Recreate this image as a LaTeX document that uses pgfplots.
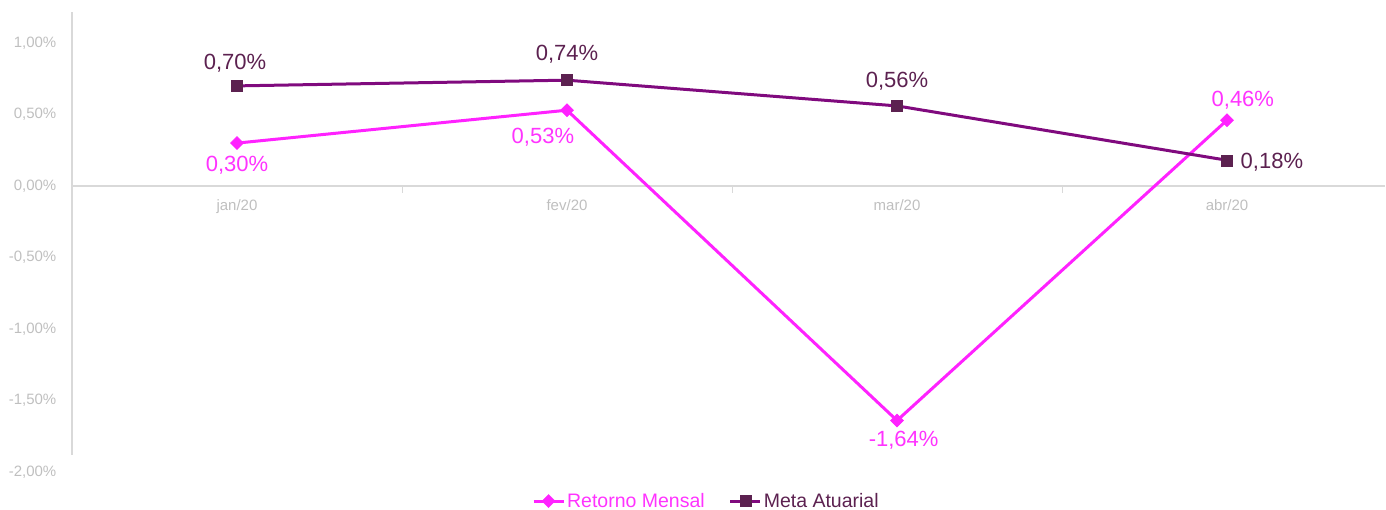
\documentclass[border=0pt]{standalone}
\usepackage{pgfplots}
\pgfplotsset{compat=1.18}
\usepackage{fontspec}
\setmainfont{Liberation Sans}
\definecolor{ret}{HTML}{FF22FF}
\definecolor{retlab}{HTML}{FF33FF}
\definecolor{metaline}{HTML}{800A7E}
\definecolor{metamark}{HTML}{5C2150}
\definecolor{axgray}{HTML}{D9D9D9}
\definecolor{ticklab}{HTML}{BFBFBF}
\begin{document}
\begin{tikzpicture}[x=1pt,y=1pt]
\useasboundingbox (0,0) rectangle (1386,510);
\begin{axis}[
  at={(72pt,38pt)}, anchor=south west,
  x=330pt, y=143pt,
  xmin=-0.5, xmax=3.48, ymin=-2, ymax=1.22,
  axis x line=middle, axis y line=left,
  x axis line style={-, draw=axgray, line width=1.5pt},
  y axis line style={draw=none},
  clip=false,
  xtick={0,1,2,3},
  xticklabels={jan/20,fev/20,mar/20,abr/20},
  xtick style={draw=none},
  extra x ticks={0.5,1.5,2.5},
  extra x tick labels={},
  extra x tick style={xtick style={draw=axgray, line width=1pt}, major tick length=7pt, tick align=outside},
  ytick={-2,-1.5,-1,-0.5,0,0.5,1},
  yticklabels={{-2,00\%},{-1,50\%},{-1,00\%},{-0,50\%},{0,00\%},{0,50\%},{1,00\%}},
  ytick style={draw=none},
  tick label style={font=\fontsize{15}{17}\selectfont, text=ticklab},
  yticklabel style={anchor=east, xshift=-10pt},
  xticklabel style={yshift=-8pt},
  legend columns=2,
  legend style={at={(0.483,-0.063)}, anchor=center, draw=none, fill=none,
    font=\fontsize{19.5}{22}\selectfont, /tikz/every even column/.append style={column sep=22pt}},
  legend image code/.code={\draw[#1, line width=3pt, mark repeat=2, mark phase=2] plot coordinates {(0pt,0pt) (15pt,0pt) (30pt,0pt)};},
]
\addplot[ret, line width=3pt, mark=square*, mark size=4.6pt, mark options={solid, rotate=45, fill=ret, draw=ret, line width=0.5pt}] coordinates {(0,0.30)(1,0.53)(2,-1.64)(3,0.46)};
\addlegendentry[text=retlab]{Retorno Mensal}
\addplot[metaline, line width=3pt, mark=square*, mark size=5.5pt, mark options={solid, fill=metamark, draw=metamark, line width=0.5pt}] coordinates {(0,0.70)(1,0.74)(2,0.56)(3,0.18)};
\addlegendentry[text=metamark]{Meta Atuarial}
\begin{scope}[every node/.style={font=\fontsize{22}{25}\selectfont, inner sep=0pt}]
\node[text=retlab] at (axis cs:0,0.147) {0,30\%};
\node[text=retlab] at (axis cs:0.927,0.343) {0,53\%};
\node[text=retlab] at (axis cs:2.02,-1.776) {-1,64\%};
\node[text=retlab] at (axis cs:3.048,0.601) {0,46\%};
\node[text=metamark] at (axis cs:-0.006,0.860) {0,70\%};
\node[text=metamark] at (axis cs:1.0,0.923) {0,74\%};
\node[text=metamark] at (axis cs:2.0,0.734) {0,56\%};
\node[text=metamark] at (axis cs:3.136,0.168) {0,18\%};
\end{scope}
\draw[axgray, line width=1.5pt] (axis cs:-0.5,-1.88) -- (axis cs:-0.5,1.22);
\end{axis}
\end{tikzpicture}
\end{document}
